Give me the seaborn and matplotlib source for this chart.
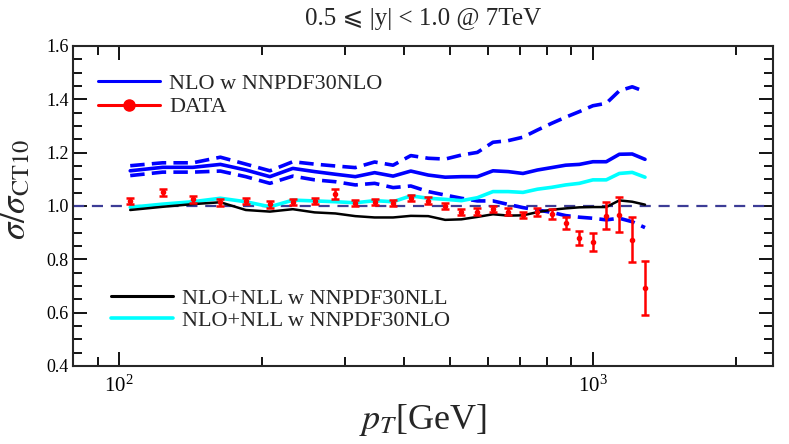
import numpy as np
import pandas as pd
import matplotlib
matplotlib.use("Agg")
import matplotlib.pyplot as plt
import seaborn as sns
from matplotlib.lines import Line2D
from matplotlib.ticker import MultipleLocator, LogLocator, NullFormatter

# bin centres (GeV)
pt = [105.5, 123.5, 143, 163.5, 185, 208, 232.5, 258.5, 286, 315, 346, 378.5,
      412.5, 449, 487.5, 527.5, 570, 615, 662, 711.5, 763.5, 818, 875.5, 936,
      999.5, 1066.5, 1136.5, 1210, 1287.5]

# ratio to CT10
data = [1.019, 1.051, 1.026, 1.014, 1.018, 1.006, 1.015, 1.019, 1.044, 1.012,
        1.014, 1.011, 1.029, 1.020, 0.999, 0.977, 0.979, 0.988, 0.979, 0.967,
        0.977, 0.970, 0.937, 0.881, 0.866, 0.964, 0.967, 0.873, 0.694]
data_err = [0.012, 0.013, 0.013, 0.013, 0.012, 0.012, 0.012, 0.012, 0.018, 0.012,
            0.012, 0.012, 0.012, 0.012, 0.012, 0.012, 0.012, 0.012, 0.012, 0.012,
            0.015, 0.017, 0.022, 0.026, 0.033, 0.05, 0.066, 0.084, 0.101]

nlo = [1.132, 1.145, 1.145, 1.156, 1.135, 1.110, 1.141, 1.129, 1.119, 1.110,
       1.125, 1.112, 1.131, 1.116, 1.108, 1.110, 1.110, 1.132, 1.129, 1.122,
       1.135, 1.144, 1.153, 1.156, 1.166, 1.166, 1.194, 1.195, 1.175]
nlo_up = [1.151, 1.162, 1.162, 1.183, 1.157, 1.132, 1.166, 1.157, 1.150, 1.144,
          1.165, 1.153, 1.189, 1.179, 1.176, 1.191, 1.201, 1.239, 1.245, 1.258,
          1.285, 1.310, 1.333, 1.354, 1.376, 1.385, 1.432, 1.447, 1.429]
nlo_dn = [1.114, 1.127, 1.127, 1.131, 1.110, 1.085, 1.112, 1.098, 1.091, 1.079,
          1.085, 1.069, 1.075, 1.054, 1.041, 1.029, 1.019, 1.019, 1.006, 0.994,
          0.985, 0.976, 0.964, 0.958, 0.954, 0.948, 0.954, 0.941, 0.919]
nll_nlo = [0.995, 1.007, 1.016, 1.029, 1.016, 0.997, 1.022, 1.019, 1.016, 1.012,
           1.020, 1.016, 1.038, 1.029, 1.025, 1.020, 1.031, 1.054, 1.054, 1.051,
           1.063, 1.070, 1.079, 1.085, 1.098, 1.098, 1.122, 1.126, 1.108]
nll_nll = [0.985, 0.997, 1.007, 1.014, 0.985, 0.979, 0.988, 0.976, 0.972, 0.962,
           0.957, 0.957, 0.963, 0.962, 0.948, 0.950, 0.959, 0.969, 0.964, 0.965,
           0.977, 0.986, 0.991, 0.995, 0.996, 0.996, 1.021, 1.016, 1.005]

sns.set_style("ticks")
plt.rcParams["font.family"] = ["Liberation Serif", "DejaVu Serif", "DejaVu Sans"]
plt.rcParams["mathtext.fontset"] = "stix"

fig = plt.figure(figsize=(7.89, 4.44), dpi=100)
ax = fig.add_axes([0.0929, 0.1757, 0.887, 0.7207])

df = pd.DataFrame({"pt": pt, "nlo": nlo, "up": nlo_up, "dn": nlo_dn,
                   "nll_nlo": nll_nlo, "nll_nll": nll_nll})

ax.axhline(1.0, color="#3c3c96", lw=1.6, dashes=(5, 3.5), zorder=1)
for col in ["up", "dn"]:
    sns.lineplot(data=df, x="pt", y=col, ax=ax, color="#0000ff", lw=2.6,
                 dashes=False, zorder=2).lines[-1].set_dashes((4, 2))
sns.lineplot(data=df, x="pt", y="nlo", ax=ax, color="#0000ff", lw=2.6, zorder=2)
sns.lineplot(data=df, x="pt", y="nll_nlo", ax=ax, color="#00ffff", lw=2.6, zorder=3)
sns.lineplot(data=df, x="pt", y="nll_nll", ax=ax, color="black", lw=1.8, zorder=4)

ax.errorbar(pt, data, yerr=data_err, fmt="o", color="#ff0000", ms=3,
            elinewidth=1.8, capsize=3, capthick=1.8, zorder=5)

ax.set_xscale("log")
ax.set_xlim(80, 2400)
ax.set_ylim(0.4, 1.6)
ax.yaxis.set_major_locator(MultipleLocator(0.2))
ax.yaxis.set_minor_locator(MultipleLocator(0.05))
ax.xaxis.set_major_locator(LogLocator(base=10))
ax.xaxis.set_minor_locator(LogLocator(base=10, subs=np.arange(2, 10)))
ax.xaxis.set_minor_formatter(NullFormatter())
ax.tick_params(which="both", direction="in", top=True, right=True,
               width=1.3, labelsize=13, colors="black")
ax.tick_params(axis="x", which="major", labelsize=15, pad=7)
ax.tick_params(which="major", length=10)
ax.tick_params(which="minor", length=6.5)
for s in ax.spines.values():
    s.set_linewidth(1.5)

ax.set_xlabel("$p_T$[GeV]", fontsize=26, labelpad=4)
ax.set_ylabel(r"$\sigma/\sigma_{\mathrm{CT10}}$", fontsize=25)
ax.yaxis.set_label_coords(-0.058, 0.553)
fig.text(0.536, 0.958, "0.5 ⩽ |y| < 1.0 @ 7TeV", ha="center", va="center",
         fontsize=18)

h_top = [Line2D([], [], color="#0000ff", lw=2.2),
         Line2D([], [], color="#ff0000", lw=2.2, marker="o", ms=8)]
leg1 = ax.legend(h_top, ["NLO w NNPDF30NLO", "DATA"], loc="upper left",
                 bbox_to_anchor=(0.035, 0.915), frameon=False, fontsize=16,
                 handlelength=2.8, handletextpad=0.4, labelspacing=0.14,
                 borderpad=0, borderaxespad=0)
ax.add_artist(leg1)
h_bot = [Line2D([], [], color="black", lw=2.2),
         Line2D([], [], color="#00ffff", lw=2.6)]
ax.legend(h_bot, ["NLO+NLL w NNPDF30NLL", "NLO+NLL w NNPDF30NLO"],
          loc="lower left", bbox_to_anchor=(0.054, 0.11), frameon=False,
          fontsize=16, handlelength=2.8, handletextpad=0.4, labelspacing=0.05,
          borderpad=0, borderaxespad=0)

fig.savefig("out.png", dpi=100)
